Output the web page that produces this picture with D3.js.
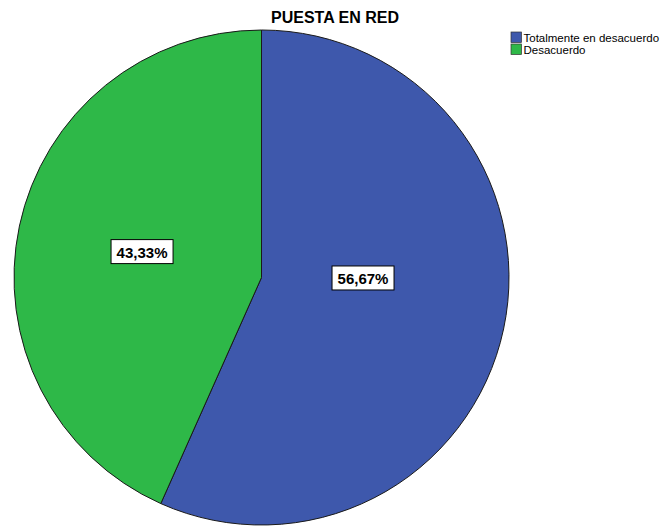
<!DOCTYPE html>
<html>
<head>
<meta charset="utf-8">
<script src="https://cdn.jsdelivr.net/npm/d3@7"></script>
<style>
  body { margin: 0; background: #fff; }
  text { font-family: Arial, "Liberation Sans", sans-serif; }
</style>
</head>
<body>
<svg id="chart" width="662" height="527"></svg>
<script>
const categories = ['Totalmente en desacuerdo', 'Desacuerdo'];
const percents = [56.67, 43.33];
const colors = ['#3e58ac', '#2eb848'];
const title = 'PUESTA EN RED';

const svg = d3.select('#chart');
const cx = 261.5, cy = 277.5, r = 247.5;

const pie = d3.pie().sort(null).value(d => d);
const arcs = pie(percents);
const arc = d3.arc().innerRadius(0).outerRadius(r);

const g = svg.append('g').attr('transform', `translate(${cx},${cy})`);

g.selectAll('path.slice')
  .data(arcs)
  .enter()
  .append('path')
  .attr('class', 'slice')
  .attr('d', arc)
  .attr('fill', (d, i) => colors[i])
  .attr('stroke', '#1a1a1a')
  .attr('stroke-width', 1);

// labels near the area centroid of each slice
const fmt = v => v.toFixed(2).replace('.', ',') + '%';
const labels = g.selectAll('g.label')
  .data(arcs)
  .enter()
  .append('g')
  .attr('class', 'label')
  .attr('transform', d => {
    const half = (d.endAngle - d.startAngle) / 2;
    const mid = d.startAngle + half;
    const dist = 2 * r * Math.sin(half) / (3 * half) * (d.index === 0 ? 1.12 : 1.03);
    const ang = d.index === 0 ? mid - 0.2 : mid;
    return `translate(${dist * Math.sin(ang)},${-dist * Math.cos(ang)})`;
  });

labels.append('rect')
  .attr('x', -31).attr('y', -12.5)
  .attr('width', 62).attr('height', 24)
  .attr('fill', '#fff')
  .attr('stroke', '#000')
  .attr('stroke-width', 1);

labels.append('text')
  .attr('text-anchor', 'middle')
  .attr('dy', '0.36em')
  .attr('font-size', 15)
  .attr('font-weight', 'bold')
  .text(d => fmt(d.data));

svg.append('text')
  .attr('x', 271)
  .attr('y', 22.5)
  .attr('font-size', 16)
  .attr('font-weight', 'bold')
  .text(title);

const legend = svg.append('g').attr('transform', 'translate(511,32)');
const items = legend.selectAll('g')
  .data(categories)
  .enter()
  .append('g')
  .attr('transform', (d, i) => `translate(0,${i * 12})`);

items.append('rect')
  .attr('width', 10.5).attr('height', 10.5)
  .attr('fill', (d, i) => colors[i])
  .attr('stroke', '#333')
  .attr('stroke-width', 0.7);

items.append('text')
  .attr('x', 12.5)
  .attr('y', 5.5)
  .attr('dy', '0.35em')
  .attr('font-size', 11.5)
  .text(d => d);
</script>
</body>
</html>
